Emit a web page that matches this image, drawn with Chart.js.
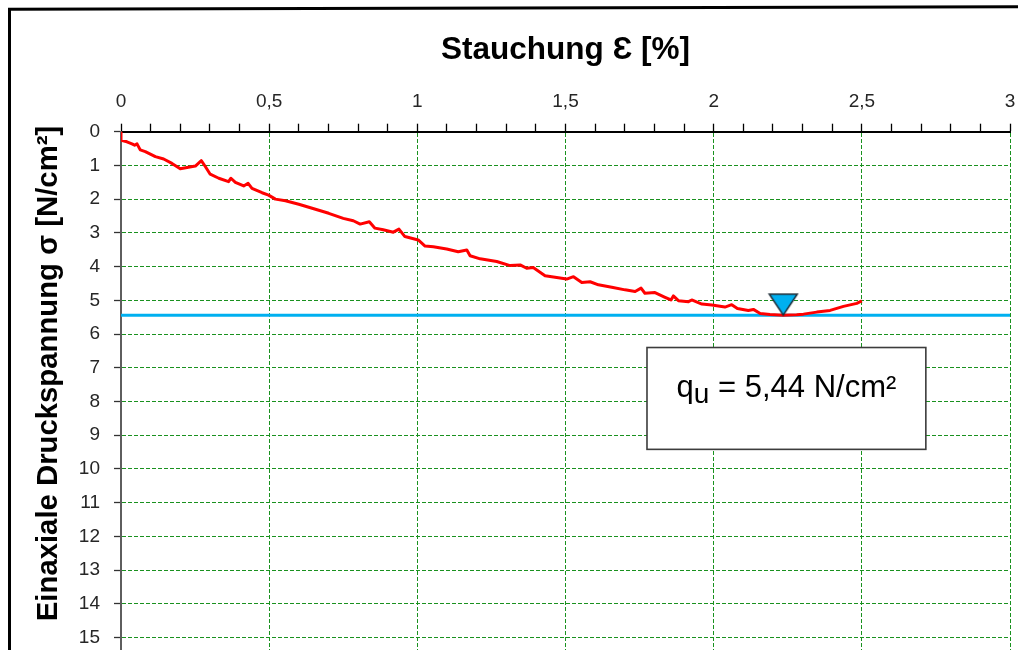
<!DOCTYPE html>
<html>
<head>
<meta charset="utf-8">
<title>Einaxialer Druckversuch</title>
<script src="https://cdn.jsdelivr.net/npm/chart.js@4.4.1/dist/chart.umd.min.js"></script>
<style>
  html, body { margin: 0; padding: 0; background: #fff; overflow: hidden; }
  #wrap { width: 1018px; height: 650px; position: relative; }
  canvas { display: block; }
</style>
</head>
<body>
<div id="wrap"><canvas id="chart" width="1018" height="650"></canvas></div>
<script>
// Messkurve: Stauchung [%] und einaxiale Druckspannung [N/cm²]
const strain = [
  0, 0, 0.02, 0.037, 0.046, 0.054, 0.065, 0.082, 0.116, 0.144, 0.172, 0.2, 0.223, 0.251, 0.271, 0.285,
  0.301, 0.33, 0.363, 0.371, 0.386, 0.414, 0.429, 0.442, 0.476, 0.498, 0.521, 0.555, 0.6, 0.645, 0.701,
  0.75, 0.784, 0.807, 0.838, 0.857, 0.885, 0.919, 0.938, 0.958, 1.003, 1.026, 1.054, 1.099, 1.138, 1.167,
  1.178, 1.212, 1.268, 1.313, 1.347, 1.369, 1.391, 1.431, 1.476, 1.504, 1.527, 1.555, 1.583, 1.611, 1.656,
  1.701, 1.735, 1.755, 1.768, 1.802, 1.836, 1.856, 1.864, 1.881, 1.915, 1.926, 1.96, 1.994, 2.038, 2.061,
  2.08, 2.117, 2.134, 2.157, 2.19, 2.235, 2.28, 2.303, 2.348, 2.393, 2.438, 2.483, 2.5
];
const stress = [
  0, 0.25, 0.30, 0.36, 0.40, 0.36, 0.54, 0.59, 0.74, 0.81, 0.94, 1.1, 1.06, 1.02, 0.86, 1.04,
  1.26, 1.38, 1.48, 1.38, 1.5, 1.61, 1.53, 1.68, 1.81, 1.88, 2.0, 2.05, 2.15, 2.27, 2.42,
  2.57, 2.64, 2.74, 2.67, 2.86, 2.91, 2.98, 2.89, 3.11, 3.21, 3.39, 3.41, 3.48, 3.56, 3.51,
  3.68, 3.77, 3.85, 3.97, 3.95, 4.05, 4.03, 4.27, 4.33, 4.37, 4.3, 4.47, 4.45, 4.54, 4.61,
  4.69, 4.74, 4.64, 4.79, 4.77, 4.91, 4.99, 4.87, 5.01, 5.04, 4.99, 5.11, 5.14, 5.2, 5.13,
  5.24, 5.3, 5.27, 5.39, 5.42, 5.44, 5.43, 5.41, 5.35, 5.3, 5.18, 5.09, 5.02
];

// Bruchpunkt q_u
const peakStrain = [2.235];
const peakStress = [5.44];

// Horizontale Linie auf Höhe von q_u
const qLineStrain = [0, 3];
const qLineStress = [5.44, 5.44];

// Achsen
const xTickValues = [0, 0.5, 1, 1.5, 2, 2.5, 3];
const xTickLabels = ['0', '0,5', '1', '1,5', '2', '2,5', '3'];
const yTickValues = [0, 1, 2, 3, 4, 5, 6, 7, 8, 9, 10, 11, 12, 13, 14, 15];
const yTickLabels = ['0', '1', '2', '3', '4', '5', '6', '7', '8', '9', '10', '11', '12', '13', '14', '15'];

const xTitle = 'Stauchung Ɛ [%]';
const yTitle = 'Einaxiale Druckspannung σ [N/cm²]';
const boxMain = 'q';
const boxSub = 'u';
const boxRest = ' = 5,44 N/cm²';

const FONT = "'Liberation Sans', Arial, sans-serif";
const GRID_GREEN = '#1a911f';
const LABEL_COLOR = '#262626';

const majorIndex = v => xTickValues.findIndex(t => Math.abs(t - v) < 1e-6);

// Marker: nach unten zeigendes Dreieck, Spitze im Mittelpunkt des Bildes
const triangle = document.createElement('canvas');
triangle.width = 32;
triangle.height = 46;
(() => {
  const t = triangle.getContext('2d');
  t.beginPath();
  t.moveTo(2, 2);
  t.lineTo(30, 2);
  t.lineTo(16, 23);
  t.closePath();
  t.fillStyle = '#00b0f0';
  t.fill();
  t.lineWidth = 1.5;
  t.strokeStyle = '#1c2b36';
  t.lineJoin = 'miter';
  t.stroke();
})();

// Skalen ohne zusätzliche Randabstände für Beschriftungen
const noLabelPadding = scale => {
  scale.paddingLeft = 0;
  scale.paddingRight = 0;
  scale.paddingTop = 0;
  scale.paddingBottom = 0;
};

// Rahmen, senkrechter Achsentitel und Ergebnisfeld
const decor = {
  id: 'decor',
  beforeDraw(chart) {
    const ctx = chart.ctx;
    ctx.save();
    ctx.fillStyle = '#ffffff';
    ctx.fillRect(0, 0, chart.width, chart.height);
    ctx.restore();
  },
  afterDraw(chart) {
    const { ctx, scales: { x, y } } = chart;
    ctx.save();

    // äußerer Rahmen
    ctx.strokeStyle = '#000';
    ctx.lineWidth = 3;
    ctx.beginPath();
    ctx.moveTo(9.5, chart.height + 2);
    ctx.lineTo(9.5, 9.3);
    ctx.lineTo(chart.width + 2, 6.8);
    ctx.stroke();

    // Titel der Spannungsachse
    ctx.save();
    ctx.translate(48.5, 373.5);
    ctx.rotate(-Math.PI / 2);
    ctx.font = `bold 29.3px ${FONT}`;
    ctx.fillStyle = '#000';
    ctx.textAlign = 'center';
    ctx.textBaseline = 'middle';
    ctx.fillText(yTitle, 0, 0);
    ctx.restore();

    // Ergebnisfeld q_u
    const left = x.getPixelForValue(1.775);
    const right = x.getPixelForValue(2.716);
    const top = y.getPixelForValue(6.4);
    const bottom = y.getPixelForValue(9.42);
    ctx.fillStyle = '#fff';
    ctx.fillRect(left, top, right - left, bottom - top);
    ctx.strokeStyle = '#3c3c3c';
    ctx.lineWidth = 1.6;
    ctx.strokeRect(left, top, right - left, bottom - top);

    const mainFont = `31px ${FONT}`;
    const subFont = `28px ${FONT}`;
    ctx.fillStyle = '#000';
    ctx.textBaseline = 'alphabetic';
    ctx.textAlign = 'left';
    ctx.font = mainFont;
    const wq = ctx.measureText(boxMain).width;
    const wr = ctx.measureText(boxRest).width;
    ctx.font = subFont;
    const wu = ctx.measureText(boxSub).width;
    const total = wq + wu + wr;
    const cx = (left + right) / 2;
    const base = top + (bottom - top) * 0.49;
    let px = cx - total / 2;
    ctx.font = mainFont;
    ctx.fillText(boxMain, px, base);
    px += wq;
    ctx.font = subFont;
    ctx.fillText(boxSub, px, base + 6);
    px += wu;
    ctx.font = mainFont;
    ctx.fillText(boxRest, px, base);

    ctx.restore();
  }
};

const curve = strain.map((s, i) => ({ x: s, y: stress[i] }));
const peak = peakStrain.map((s, i) => ({ x: s, y: peakStress[i] }));
const qLine = qLineStrain.map((s, i) => ({ x: s, y: qLineStress[i] }));

Chart.defaults.font.family = FONT;

new Chart(document.getElementById('chart'), {
  type: 'scatter',
  data: {
    datasets: [
      {
        label: 'q_u',
        data: peak,
        pointStyle: triangle,
        pointRadius: 12,
        showLine: false,
        clip: false
      },
      {
        label: 'Messkurve',
        data: curve,
        showLine: true,
        borderColor: '#ff0000',
        borderWidth: 3,
        borderJoinStyle: 'round',
        pointRadius: 0,
        tension: 0,
        fill: false
      },
      {
        label: 'q_u Linie',
        data: qLine,
        showLine: true,
        borderColor: '#00b0f0',
        borderWidth: 3,
        pointRadius: 0,
        fill: false
      }
    ]
  },
  options: {
    responsive: false,
    animation: false,
    devicePixelRatio: 1,
    layout: { autoPadding: false, padding: { left: 0, top: 0, right: 8, bottom: 0 } },
    plugins: { legend: { display: false }, tooltip: { enabled: false } },
    events: [],
    scales: {
      x: {
        type: 'linear',
        position: 'top',
        min: 0,
        max: 3,
        afterFit(scale) { scale.height = 131.7; noLabelPadding(scale); },
        ticks: {
          stepSize: 0.1,
          maxTicksLimit: 100,
          autoSkip: false,
          maxRotation: 0,
          minRotation: 0,
          padding: 11,
          color: LABEL_COLOR,
          font: { size: 19 },
          callback: v => { const i = majorIndex(v); return i >= 0 ? xTickLabels[i] : ''; }
        },
        grid: {
          color: c => (c.tick && majorIndex(c.tick.value) >= 0 && c.tick.value > 0) ? GRID_GREEN : 'rgba(0,0,0,0)',
          lineWidth: 1,
          drawTicks: true,
          tickLength: 8,
          tickColor: '#000',
          tickWidth: 1.3
        },
        border: { display: true, color: '#000', width: 2, dash: [4, 2] },
        title: {
          display: true,
          text: xTitle,
          color: '#000',
          font: { size: 31.5, weight: 'bold' },
          padding: { top: 31, bottom: 0 }
        }
      },
      y: {
        type: 'linear',
        position: 'left',
        reverse: true,
        min: 0,
        max: 15.37,
        afterFit(scale) { scale.width = 121; noLabelPadding(scale); },
        afterBuildTicks(scale) {
          scale.ticks = scale.ticks.filter(t => yTickValues.includes(t.value));
        },
        ticks: {
          stepSize: 1,
          includeBounds: false,
          autoSkip: false,
          padding: 14,
          color: LABEL_COLOR,
          font: { size: 19 },
          callback: v => { const i = yTickValues.indexOf(v); return i >= 0 ? yTickLabels[i] : ''; }
        },
        grid: {
          color: c => (c.tick && c.tick.value > 0) ? GRID_GREEN : 'rgba(0,0,0,0)',
          lineWidth: 1,
          drawTicks: true,
          tickLength: 7,
          tickColor: '#333',
          tickWidth: 1.3
        },
        border: { display: true, color: '#5e5e5e', width: 2, dash: [4, 2] }
      }
    }
  },
  plugins: [decor]
});
</script>
</body>
</html>
